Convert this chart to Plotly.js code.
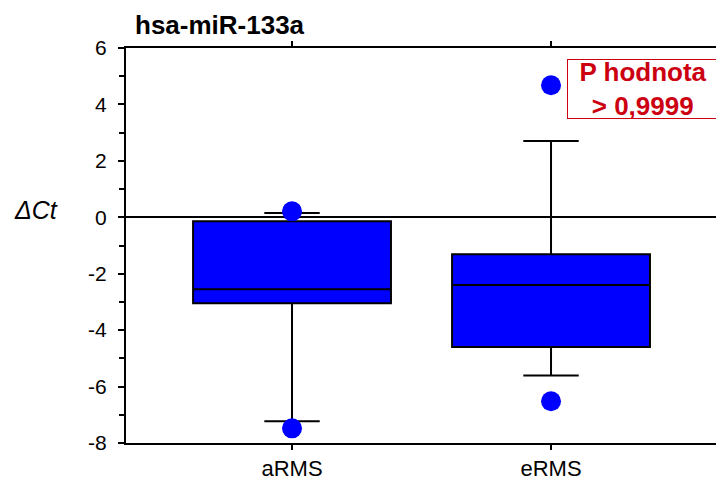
<!DOCTYPE html>
<html>
<head>
<meta charset="utf-8">
<script src="https://cdn.plot.ly/plotly-3.0.1.min.js"></script>
<style>html,body{margin:0;padding:0;background:#fff;}#chart{width:716px;height:484px;}</style>
</head>
<body>
<div id="chart"></div>
<script>
// Categories and box statistics
const categories = ["aRMS", "eRMS"];
const q1Values = [-3.05, -4.60];
const medianValues = [-2.55, -2.40];
const q3Values = [-0.14, -1.31];
const lowerWhisker = [-7.23, -5.61];
const upperWhisker = [0.15, 2.70];
// Points beyond the whiskers
const outlierCategory = ["aRMS", "aRMS", "eRMS", "eRMS"];
const outlierValues = [0.21, -7.48, 4.68, -6.52];
const yTickValues = [-8, -6, -4, -2, 0, 2, 4, 6];

const FONT = "Arial, 'Liberation Sans', sans-serif";

const boxTrace = {
  type: "box",
  x: categories,
  q1: q1Values,
  median: medianValues,
  q3: q3Values,
  lowerfence: lowerWhisker,
  upperfence: upperWhisker,
  boxpoints: false,
  width: 0.764,
  whiskerwidth: 0.28,
  fillcolor: "#0000FF",
  line: {color: "#000000", width: 2},
  hoverinfo: "skip"
};

const pointTrace = {
  type: "scatter",
  mode: "markers",
  x: outlierCategory,
  y: outlierValues,
  marker: {color: "#0000FF", size: 20, line: {width: 0}},
  cliponaxis: false,
  hoverinfo: "skip"
};

const layout = {
  width: 716,
  height: 484,
  margin: {l: 126, r: 0, t: 48, b: 41},
  paper_bgcolor: "#ffffff",
  plot_bgcolor: "#ffffff",
  showlegend: false,
  hovermode: false,
  font: {family: FONT, color: "#000000"},
  title: {
    text: "<b>hsa-miR-133a</b>",
    font: {family: FONT, size: 26, color: "#000000"},
    x: 135 / 716, xanchor: "left", xref: "container",
    y: 1 - 25 / 484, yanchor: "middle", yref: "container"
  },
  xaxis: {
    type: "category",
    range: [-0.641, 1.637],
    showline: true, linecolor: "#000000", linewidth: 2,
    mirror: "ticks",
    ticks: "outside", ticklen: 5, tickwidth: 1.5, tickcolor: "#000000",
    showgrid: false, zeroline: false,
    tickfont: {family: FONT, size: 22, color: "#000000"}
  },
  yaxis: {
    range: [-8, 6],
    tickvals: yTickValues,
    ticktext: yTickValues.map(String),
    showline: true, linecolor: "#000000", linewidth: 2,
    ticks: "outside", ticklen: 6, tickwidth: 2, tickcolor: "#000000",
    minor: {ticks: "outside", dtick: 1, ticklen: 5, tickwidth: 2, tickcolor: "#000000", showgrid: false},
    showgrid: false,
    zeroline: true, zerolinecolor: "#000000", zerolinewidth: 2,
    ticklabelstandoff: 7,
    tickfont: {family: FONT, size: 21, color: "#000000"}
  },
  annotations: [
    {
      text: "<i>ΔCt</i>",
      xref: "paper", yref: "paper",
      x: (12 - 126) / 590, xanchor: "left",
      y: (443 - 210) / 395, yanchor: "middle",
      showarrow: false,
      font: {family: FONT, size: 25, color: "#000000"}
    },
    {
      text: "<b>P hodnota<br>&gt; 0,9999</b>",
      xref: "paper", yref: "paper",
      x: (567 - 126) / 590, xanchor: "left",
      y: (443 - 59) / 395, yanchor: "top",
      width: 150, height: 58,
      align: "center", valign: "middle",
      showarrow: false,
      bgcolor: "#ffffff",
      bordercolor: "#CC0010", borderwidth: 1, borderpad: 0,
      font: {family: FONT, size: 26, color: "#CC0010"}
    }
  ]
};

Plotly.newPlot("chart", [boxTrace, pointTrace], layout, {displayModeBar: false, staticPlot: true});
</script>
</body>
</html>
